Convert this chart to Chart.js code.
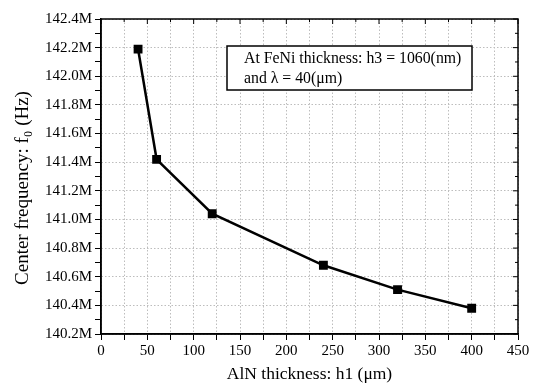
<!DOCTYPE html>
<html>
<head>
<meta charset="utf-8">
<script src="https://cdn.jsdelivr.net/npm/chart.js@4"></script>
<style>
  html, body { margin: 0; padding: 0; background: #fff; }
  #wrap { width: 533px; height: 385px; }
</style>
</head>
<body>
<div id="wrap"><canvas id="c" width="533" height="385"></canvas></div>
<script>
// AlN thickness h1 (um) vs center frequency (MHz)
const thicknessUm = [40, 60, 120, 240, 320, 400];
const centerFreqMHz = [142.19, 141.42, 141.04, 140.68, 140.51, 140.38];
const noteLines = ['At FeNi thickness: h3 = 1060(nm)', 'and \u03bb = 40(\u03bcm)'];
const yTitle = 'Center frequency: f\u2080 (Hz)';

const serif = '"Liberation Serif", "DejaVu Serif", serif';

// frame on top/right with inward ticks, y title and the note box
const framePlugin = {
  id: 'frame',
  afterDraw(chart) {
    const { ctx, chartArea: a, scales } = chart;
    ctx.save();
    ctx.strokeStyle = '#000';
    ctx.lineWidth = 1.5;
    ctx.strokeRect(a.left, a.top, a.right - a.left, a.bottom - a.top);
    ctx.lineWidth = 1;
    scales.x.ticks.forEach(t => {
      const px = scales.x.getPixelForValue(t.value);
      const len = t.value % 50 === 0 ? 5 : 3;
      ctx.beginPath(); ctx.moveTo(px, a.top); ctx.lineTo(px, a.top + len); ctx.stroke();
    });
    scales.y.ticks.forEach((t, i) => {
      const py = scales.y.getPixelForValue(t.value);
      const len = i % 2 === 0 ? 5 : 3;
      ctx.beginPath(); ctx.moveTo(a.right, py); ctx.lineTo(a.right - len, py); ctx.stroke();
    });

    // y axis title (sits a bit below the plot centre in the original)
    ctx.fillStyle = '#000';
    ctx.font = '19px ' + serif;
    ctx.textAlign = 'center';
    ctx.textBaseline = 'middle';
    ctx.save();
    ctx.translate(23, a.top + 169);
    ctx.rotate(-Math.PI / 2);
    ctx.fillText(yTitle, 0, 0);
    ctx.restore();

    // note box
    const bx = a.left + 126, by = a.top + 27, bw = 245, bh = 44;
    ctx.fillStyle = '#fff';
    ctx.fillRect(bx, by, bw, bh);
    ctx.lineWidth = 1.5;
    ctx.strokeRect(bx, by, bw, bh);
    ctx.fillStyle = '#000';
    ctx.font = '15.8px ' + serif;
    ctx.textAlign = 'left';
    ctx.fillText(noteLines[0], bx + 17, by + 13);
    ctx.fillText(noteLines[1], bx + 17, by + 33);
    ctx.restore();
  }
};

new Chart(document.getElementById('c'), {
  type: 'line',
  data: {
    datasets: [{
      data: thicknessUm.map((x, i) => ({ x, y: centerFreqMHz[i] })),
      borderColor: '#000',
      backgroundColor: '#000',
      borderWidth: 2.5,
      pointStyle: 'rect',
      pointRadius: 4.5,
      pointHoverRadius: 4.5,
      tension: 0
    }]
  },
  options: {
    responsive: false,
    animation: false,
    layout: { padding: { top: 19, right: 15, left: 0, bottom: 0 } },
    plugins: { legend: { display: false }, tooltip: { enabled: false } },
    scales: {
      x: {
        type: 'linear',
        min: 0, max: 450,
        afterFit: s => { s.height = 51; },
        ticks: {
          stepSize: 25,
          autoSkip: false,
          maxRotation: 0,
          padding: 2,
          color: '#000',
          font: { family: serif, size: 15 },
          callback: v => (v % 50 === 0 ? String(v) : '')
        },
        grid: {
          color: '#bdbdbd',
          tickColor: '#000',
          tickLength: 6,
          drawTicks: true
        },
        border: { display: true, color: '#000', width: 1.5, dash: [1.5, 2] },
        title: {
          display: true,
          text: 'AlN thickness: h1 (\u03bcm)',
          color: '#000',
          font: { family: serif, size: 17.5 },
          padding: { top: 0, bottom: 0 }
        }
      },
      y: {
        min: 140.2, max: 142.4,
        afterFit: s => { s.width = 101; },
        ticks: {
          stepSize: 0.1,
          autoSkip: false,
          padding: 3,
          color: '#000',
          font: { family: serif, size: 15 },
          callback: (v, i) => (i % 2 === 0 ? v.toFixed(1) + 'M' : '')
        },
        grid: {
          color: ctx => (ctx.index % 2 === 0 ? '#bdbdbd' : 'rgba(0,0,0,0)'),
          tickColor: '#000',
          tickLength: 6,
          drawTicks: true
        },
        border: { display: true, color: '#000', width: 1.5, dash: [1.5, 2] }
      }
    }
  },
  plugins: [framePlugin]
});
</script>
</body>
</html>
